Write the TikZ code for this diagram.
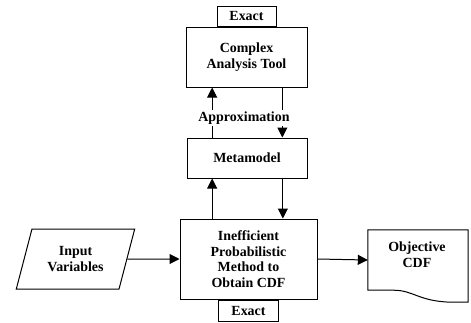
\documentclass[tikz,border=0pt]{standalone}
\usepackage{fontspec}
\setmainfont{Liberation Serif}
\usetikzlibrary{positioning}
\usetikzlibrary{arrows.meta}
\usetikzlibrary{shapes.geometric}
\begin{document}
\begin{tikzpicture}[x=1bp,y=-1bp,
  txt/.style={align=center,font=\bfseries\fontsize{14}{15.7}\selectfont,inner sep=0pt},
  box/.style={txt,draw,line width=1bp},
  arr/.style={line width=1bp,-{Triangle[length=10bp,width=10bp]}}]
 \useasboundingbox (0,0) rectangle (471,322);
 % boxes
 \node[box,minimum width=121bp,minimum height=60bp] (cat) at (246.5,57) {Complex\\Analysis Tool};
 \node[box,minimum width=59bp,minimum height=20bp,anchor=south] (exacttop) at (cat.north) {Exact};
 \node[box,minimum width=120bp,minimum height=40bp] (meta) at (247,158) {Metamodel};
 \node[box,minimum width=137bp,minimum height=80bp] (ineff) at (248.5,259) {Inefficient\\Probabilistic\\Method to\\Obtain CDF};
 \node[box,minimum width=60bp,minimum height=21bp,anchor=north] (exactbot) at (ineff.south) {Exact};
 \node[box,trapezium,trapezium left angle=68,trapezium right angle=112,trapezium stretches=true,
   minimum width=119bp,minimum height=60bp] (input) at (75.5,259) {Input\\Variables};
 \node[minimum width=100bp,minimum height=60bp] (obj) at (418,260) {};
 \draw[line width=1bp] (obj.south west) -- (obj.north west) -- (obj.north east) -- ([yshift=-12]obj.south east)
   -- ([xshift=-18,yshift=-12]obj.south east) .. controls ([xshift=-50,yshift=-11]obj.south east) and ([xshift=-55]obj.south east) .. ([xshift=-75]obj.south east) -- cycle;
 \node[txt] (objtxt) at (417,255) {Objective\\CDF};
 % arrows
 \draw[arr] ([xshift=-35]meta.north) -- ([xshift=-35]meta.north |- cat.south);
 \draw[arr] ([xshift=36]cat.south) -- ([xshift=36]cat.south |- meta.north);
 \draw[arr] ([xshift=-35]meta.south |- ineff.north) -- ([xshift=-35]meta.south);
 \draw[arr] ([xshift=36]meta.south) -- ([xshift=36]meta.south |- ineff.north);
 \draw[arr] (input.east) -- (ineff.west);
 \draw[arr] (ineff.east) -- (obj.west);
 \node[txt,fill=white,inner ysep=2bp,inner xsep=1bp] (approx) at (244,118) {Approximation};
\end{tikzpicture}
\end{document}
